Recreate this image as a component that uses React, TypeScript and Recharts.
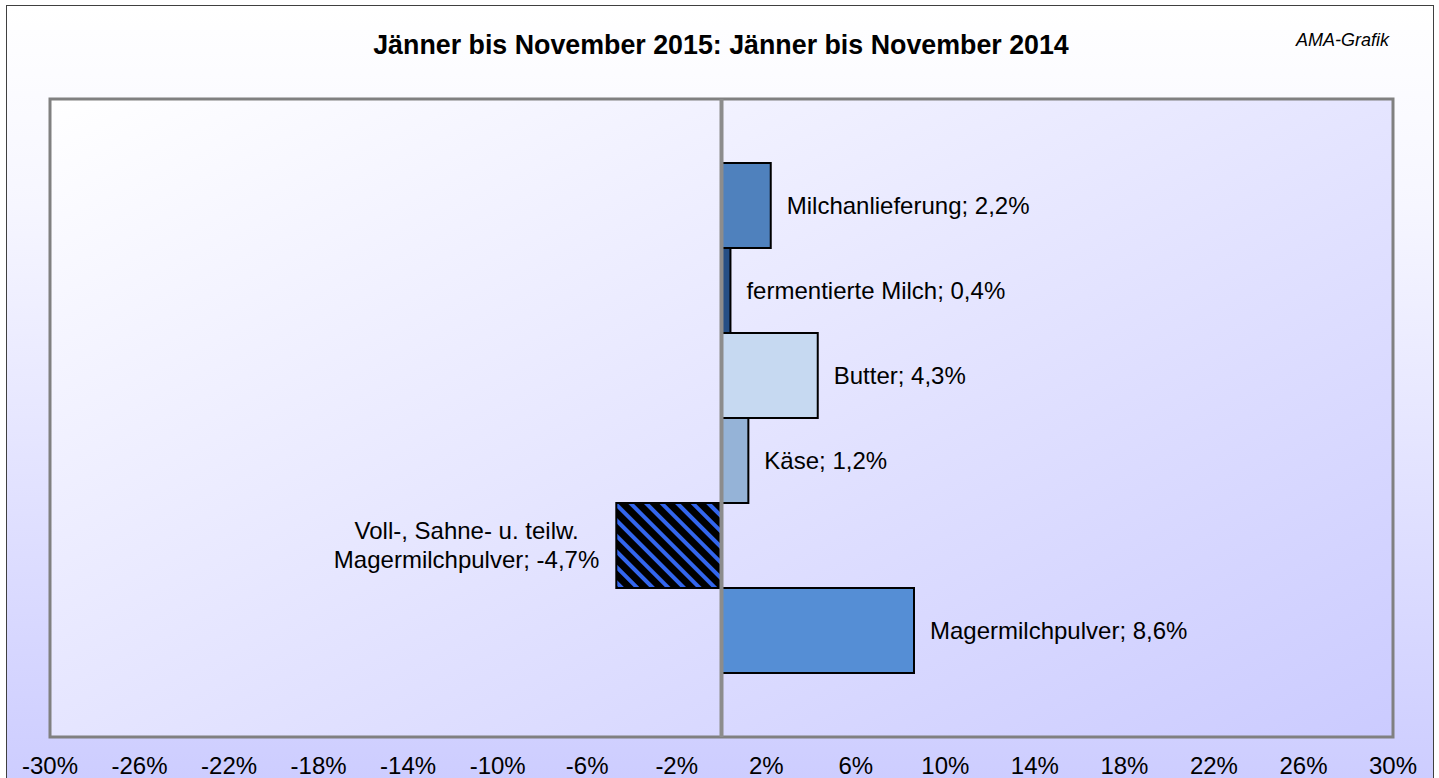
import { BarChart, Bar, Cell, XAxis, YAxis, ReferenceArea, ReferenceLine, LabelList } from "recharts";

const categories = [
  "Milchanlieferung",
  "fermentierte Milch",
  "Butter",
  "Käse",
  "Voll-, Sahne- u. teilw. Magermilchpulver",
  "Magermilchpulver",
];
const changes = [2.2, 0.4, 4.3, 1.2, -4.7, 8.6];
const barColors = ["#4F81BD", "#254F85", "#C6D9F1", "#95B3D7", "url(#hatch)", "#558ED5"];
const xTicks = [-30, -26, -22, -18, -14, -10, -6, -2, 2, 6, 10, 14, 18, 22, 26, 30];

const data = categories.map((name, i) => ({ name, value: changes[i] }));

const FONT = "'Liberation Sans', Arial, sans-serif";
const LABEL_SIZE = 24;

let ctx: CanvasRenderingContext2D | null = null;
function textWidth(s: string) {
  if (!ctx) ctx = document.createElement("canvas").getContext("2d");
  if (!ctx) return s.length * LABEL_SIZE * 0.5;
  ctx.font = `${LABEL_SIZE}px ${FONT}`;
  return ctx.measureText(s).width;
}

function wrap(s: string, max: number) {
  const words = s.split(" ");
  const lines: string[] = [];
  let cur = "";
  for (const w of words) {
    const next = cur ? cur + " " + w : w;
    if (cur && textWidth(next) > max) {
      lines.push(cur);
      cur = w;
    } else cur = next;
  }
  if (cur) lines.push(cur);
  return lines;
}

function BarLabel(props: any) {
  const vb = props.viewBox || {};
  const x = props.x ?? vb.x;
  const y = props.y ?? vb.y;
  const w = props.width ?? vb.width;
  const h = props.height ?? vb.height;
  const v = changes[props.index];
  const text = `${categories[props.index]}; ${String(v).replace(".", ",")}%`;
  const lines = wrap(text, 280);
  const cy = y + h / 2;
  const lh = 29;
  const top = cy - ((lines.length - 1) * lh) / 2;
  if (v >= 0) {
    const right = Math.max(x, x + w);
    return (
      <text x={right + 16} y={top} fontSize={LABEL_SIZE} fontFamily={FONT} fill="#000">
        {lines.map((l, i) => (
          <tspan key={i} x={right + 16} dy={i === 0 ? "0.35em" : lh}>{l}</tspan>
        ))}
      </text>
    );
  }
  const left = Math.min(x, x + w);
  const maxW = Math.max(...lines.map(textWidth));
  const cx = left - 17 - maxW / 2;
  return (
    <text x={cx} y={top} fontSize={LABEL_SIZE} fontFamily={FONT} fill="#000" textAnchor="middle">
      {lines.map((l, i) => (
        <tspan key={i} x={cx} dy={i === 0 ? "0.35em" : lh}>{l}</tspan>
      ))}
    </text>
  );
}

export default function App() {
  return (
    <div style={{ position: "absolute", left: 0, top: 0, width: 1439, height: 778, overflow: "hidden", background: "#fff" }}>
      <div
        style={{
          position: "absolute",
          left: 6,
          top: 5,
          width: 1426,
          height: 800,
          border: "1px solid #404040",
          background: "linear-gradient(to bottom, #ffffff 0%, #f6f6ff 25%, #cbcbff 100%)",
        }}
      />
      <div
        style={{
          position: "absolute",
          left: 0,
          width: 1442,
          top: 32,
          textAlign: "center",
          fontFamily: FONT,
          fontWeight: "bold",
          fontSize: 26.8,
          lineHeight: "27px",
          color: "#000",
        }}
      >
        Jänner bis November 2015: Jänner bis November 2014
      </div>
      <div
        style={{
          position: "absolute",
          right: 1439 - 1389,
          top: 31,
          fontFamily: FONT,
          fontStyle: "italic",
          fontSize: 18,
          lineHeight: "18px",
          color: "#000",
        }}
      >
        AMA-Grafik
      </div>
      <div style={{ position: "absolute", left: 0, top: 0 }}>
        <BarChart
          width={1439}
          height={778}
          data={data}
          layout="vertical"
          margin={{ top: 99, right: 46, bottom: 11, left: 50 }}
          barCategoryGap={0}
        >
          <defs>
            <linearGradient id="plotGrad" x1="0" y1="0" x2="1" y2="1">
              <stop offset="0%" stopColor="#ffffff" />
              <stop offset="100%" stopColor="#cbcbff" />
            </linearGradient>
            <pattern id="hatch" width="11" height="11" patternUnits="userSpaceOnUse" patternTransform="rotate(-45)">
              <rect width="11" height="11" fill="#000" />
              <rect x="0" y="0" width="4" height="11" fill="#3366ee" />
            </pattern>
          </defs>
          <XAxis
            type="number"
            domain={[-30, 30]}
            ticks={xTicks}
            tickFormatter={(v) => `${v}%`}
            axisLine={false}
            tickLine={false}
            tickMargin={14}
            height={30}
            interval={0}
            tick={{ fill: "#000", fontSize: 24, fontFamily: FONT }}
          />
          <YAxis type="category" dataKey="name" hide padding={{ top: 64, bottom: 64 }} />
          <YAxis yAxisId="frame" type="number" domain={[0, 1]} allowDataOverflow hide />
          <ReferenceArea
            yAxisId="frame"
            x1={-30}
            x2={30}
            fill="url(#plotGrad)"
            fillOpacity={1}
            stroke="#808080"
            strokeWidth={3}
          />
          <Bar dataKey="value" stroke="#000" strokeWidth={2} isAnimationActive={false}>
            {data.map((d, i) => (
              <Cell key={d.name} fill={barColors[i]} />
            ))}
            <LabelList dataKey="value" content={BarLabel} />
          </Bar>
          <ReferenceLine yAxisId="frame" x={0} stroke="#8c8c8c" strokeWidth={4} />
        </BarChart>
      </div>
    </div>
  );
}
